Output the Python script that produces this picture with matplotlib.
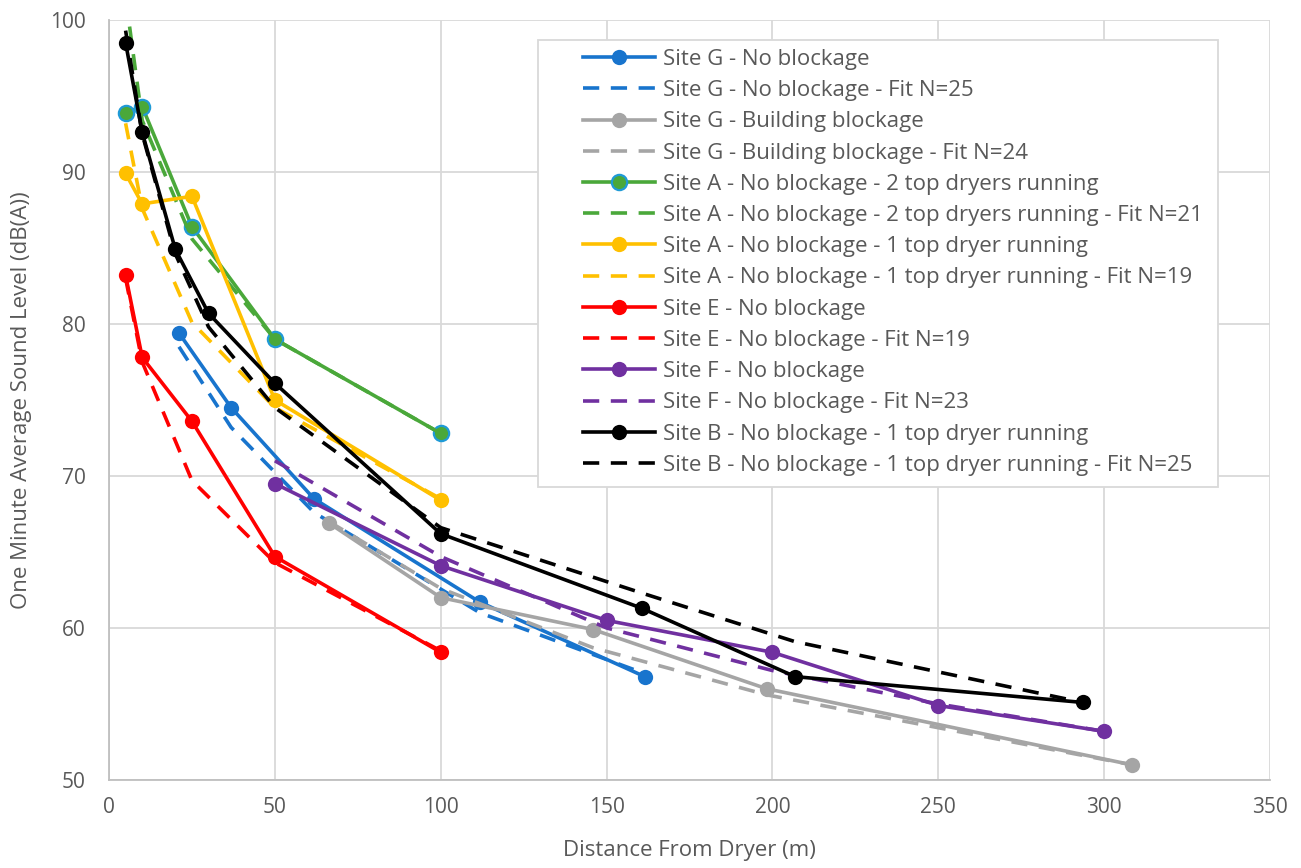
import matplotlib.pyplot as plt
from matplotlib.patches import Rectangle

plt.rcParams['font.family'] = ['Open Sans', 'DejaVu Sans']

# Site G - no blockage
g_x = [21.1, 36.8, 61.8, 111.8, 161.5]
g_y = [79.4, 74.5, 68.5, 61.7, 56.8]
g_fit = [78.5, 73.2, 67.6, 61.0, 57.0]

# Site G - building blockage
gb_x = [66.3, 100, 145.9, 198.3, 308.3]
gb_y = [66.9, 62.0, 59.9, 56.0, 51.0]
gb_fit = [67.0, 62.6, 58.7, 55.6, 51.0]

# Site A - 2 top dryers
a2_x = [5, 10, 25, 50, 100]
a2_y = [93.9, 94.3, 86.4, 79.0, 72.8]
a2_fit = [101.5, 93.4, 85.6, 79.0, 72.8]

# Site A - 1 top dryer
a1_x = [5, 10, 25, 50, 100]
a1_y = [89.9, 87.9, 88.4, 75.0, 68.4]
a1_fit = [93.2, 87.6, 80.1, 74.5, 68.5]

# Site E
e_x = [5, 10, 25, 50, 100]
e_y = [83.2, 77.8, 73.6, 64.7, 58.4]
e_fit = [83.0, 77.5, 69.7, 64.3, 58.5]

# Site F
f_x = [50, 100, 150, 200, 250, 300]
f_y = [69.5, 64.1, 60.5, 58.4, 54.9, 53.2]
f_fit = [71.0, 64.7, 60.0, 57.2, 55.0, 53.2]

# Site B
b_x = [5, 10, 20, 30, 50, 100, 160.6, 206.8, 293.6]
b_y = [98.5, 92.6, 84.9, 80.7, 76.1, 66.2, 61.3, 56.8, 55.1]
b_fit = [99.3, 92.5, 84.6, 79.8, 74.5, 66.6, 62.3, 59.1, 55.1]

series = [
    ("Site G - No blockage", g_x, g_y, g_fit, '#1874CD', None, "N=25"),
    ("Site G - Building blockage", gb_x, gb_y, gb_fit, '#A5A5A5', None, "N=24"),
    ("Site A - No blockage - 2 top dryers running", a2_x, a2_y, a2_fit, '#4AA83A', '#1F9AD6', "N=21"),
    ("Site A - No blockage - 1 top dryer running", a1_x, a1_y, a1_fit, '#FFC000', None, "N=19"),
    ("Site E - No blockage", e_x, e_y, e_fit, '#FF0000', None, "N=19"),
    ("Site F - No blockage", f_x, f_y, f_fit, '#7030A0', None, "N=23"),
    ("Site B - No blockage - 1 top dryer running", b_x, b_y, b_fit, '#000000', None, "N=25"),
]

fig = plt.figure(figsize=(13.01, 8.68), dpi=100)
ax = fig.add_axes([0.0838, 0.1014, 0.8924, 0.8756])

for name, x, y, fit, col, edge, n in series:
    ax.plot(x, y, '-', color=col, lw=2.6, marker='o', ms=11,
            mfc=col, mec=edge if edge else col, mew=1.6 if edge else 0,
            label=name, zorder=3)
    ax.plot(x, fit, color=col, lw=2.6, dashes=(4.5, 3.2),
            label=f"{name} - Fit {n}", zorder=3)

ax.set_xlim(0, 350)
ax.set_ylim(50, 100)
ax.set_xticks(range(0, 351, 50))
ax.set_yticks(range(50, 101, 10))
ax.grid(True, color='#d9d9d9', lw=1.3)
ax.set_axisbelow(True)
for s in ['top', 'right']:
    ax.spines[s].set_visible(False)
for s in ['left', 'bottom']:
    ax.spines[s].set_color('#bfbfbf')
    ax.spines[s].set_linewidth(1.3)
ax.tick_params(length=0, labelsize=15, colors='#595959')
ax.tick_params(axis='x', pad=12)
ax.tick_params(axis='y', pad=17)

ax.set_xlabel("Distance From Dryer (m)", fontsize=16, color='#595959', va='center')
ax.set_ylabel("One Minute Average Sound Level (dB(A))", fontsize=16, color='#595959', va='center')
ax.xaxis.set_label_coords(0.5, -0.0934)
ax.yaxis.set_label_coords(-0.0758, 0.5)

# legend box drawn separately so the padding can match
box = Rectangle((0.3695, 0.3855), 0.5857, 0.5882, transform=ax.transAxes,
                facecolor='white', edgecolor='#d9d9d9', lw=1.3, zorder=4, clip_on=False)
ax.add_patch(box)
leg = ax.legend(loc='upper left', bbox_to_anchor=(0.4083, 0.962), borderaxespad=0,
                fontsize=16, handlelength=3.25, labelspacing=0.46, frameon=False,
                borderpad=0, handletextpad=0.35)
leg.set_zorder(5)
for t in leg.get_texts():
    t.set_color('#595959')

fig.savefig('out.png', dpi=100)
